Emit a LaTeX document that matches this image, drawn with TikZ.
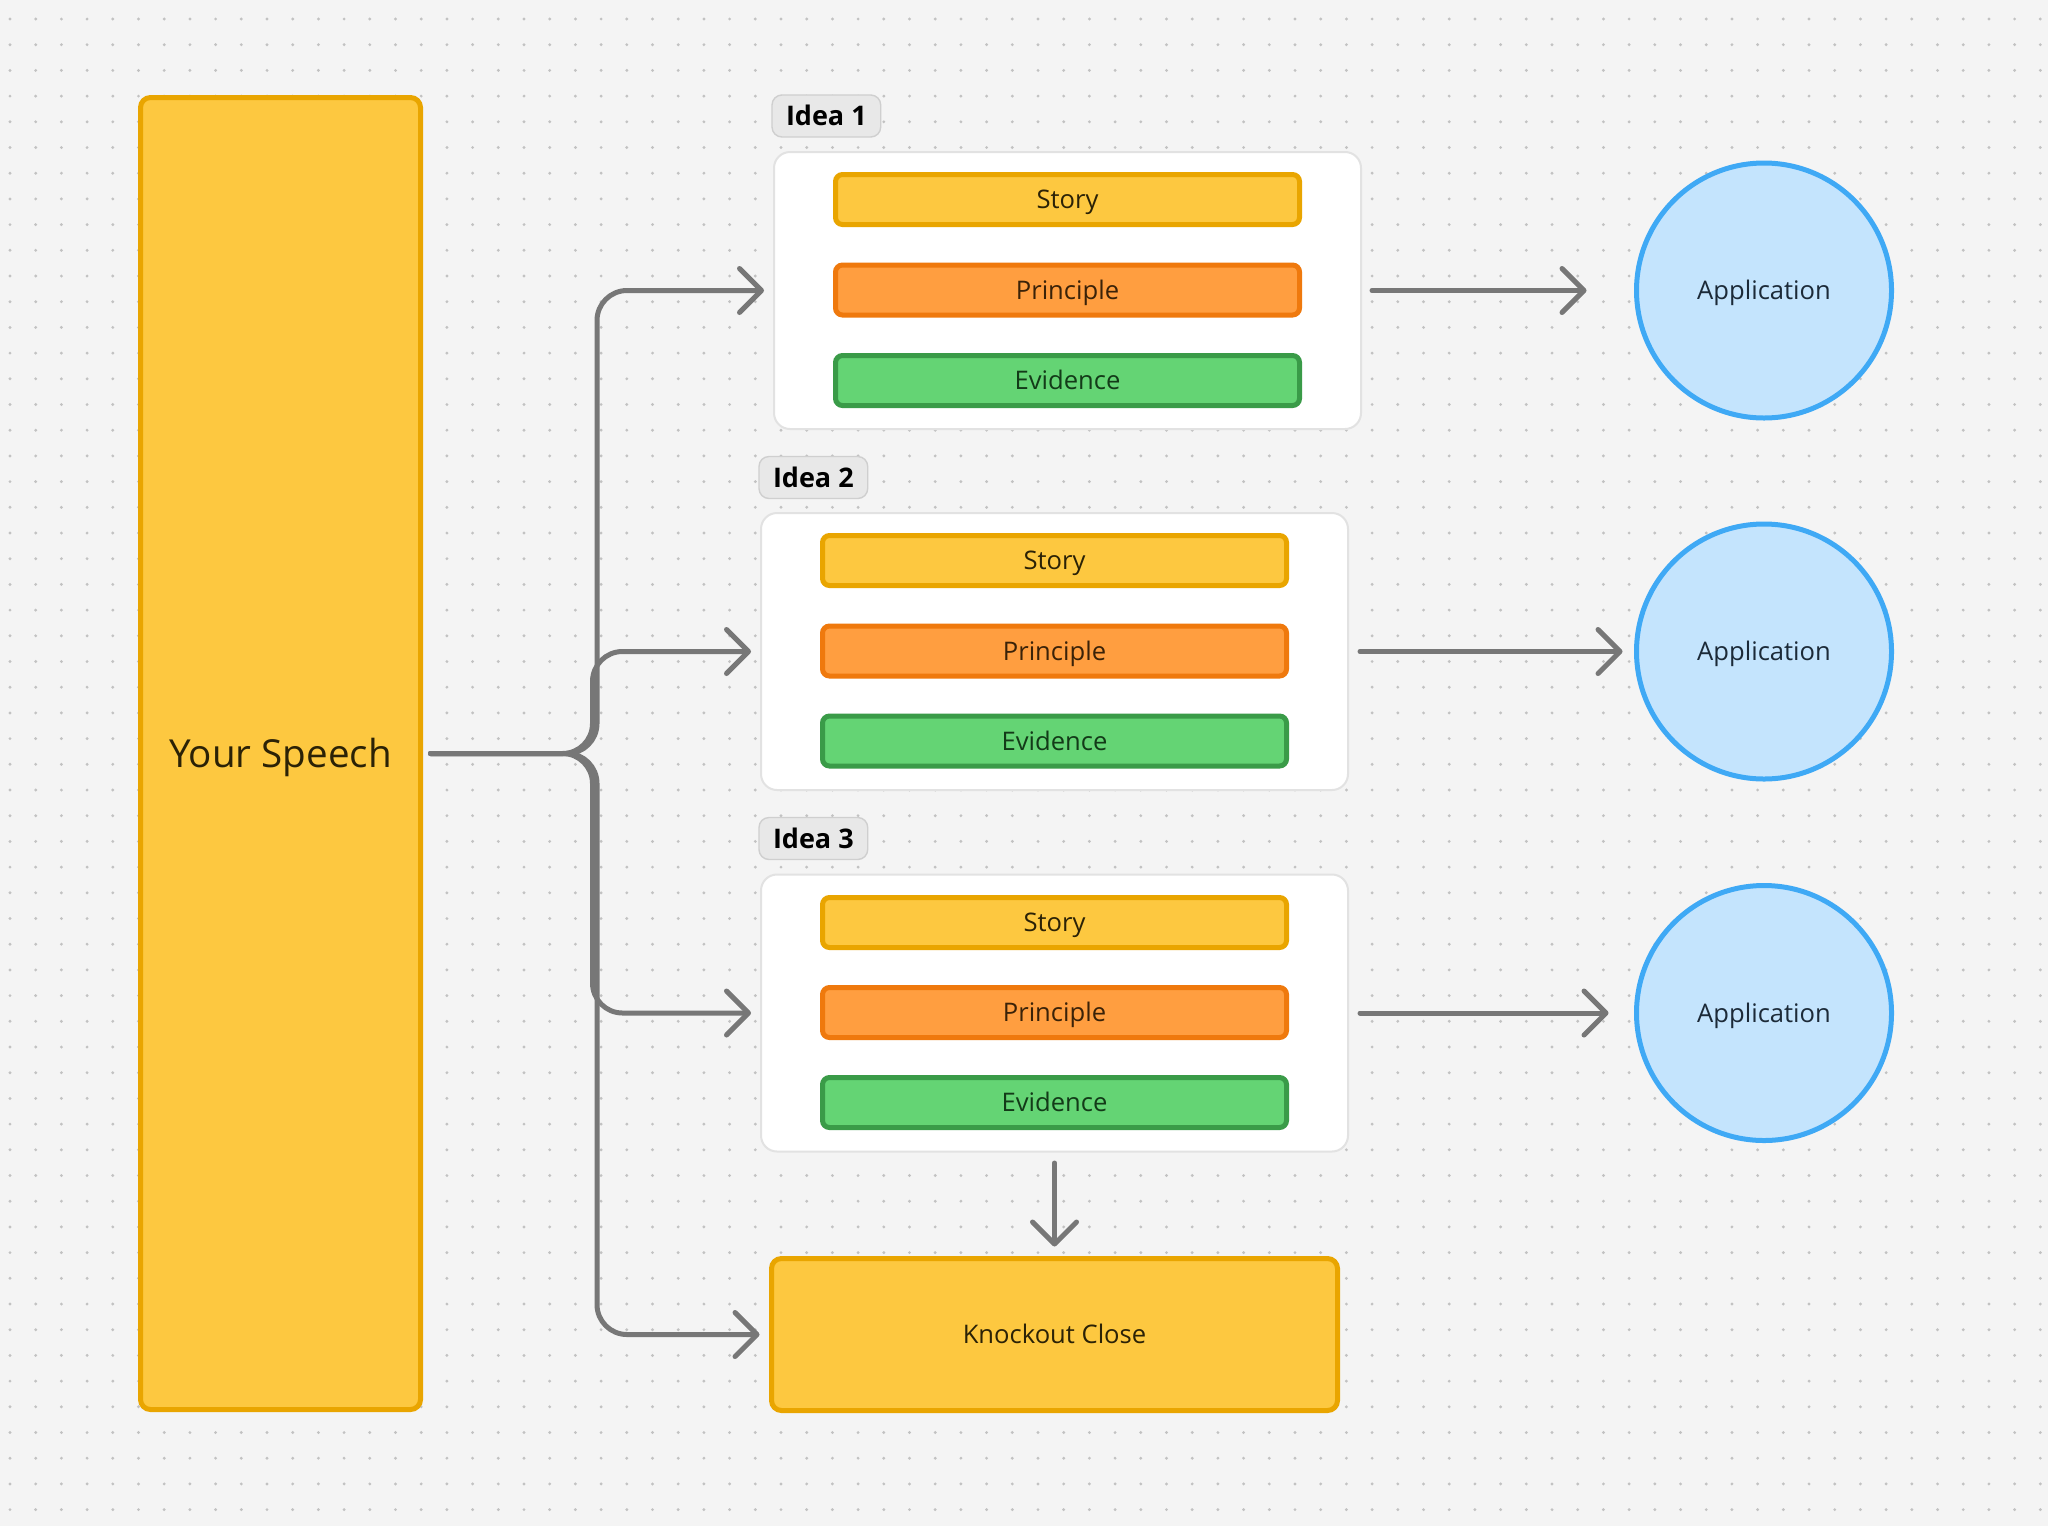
\documentclass[tikz,border=0pt]{standalone}
\usepackage{fontspec}
\setmainfont{Open Sans}
\usetikzlibrary{arrows.meta}
\definecolor{bgc}{HTML}{F4F4F4}
\definecolor{dotc}{HTML}{C2C2C2}
\definecolor{yfill}{HTML}{FDC840}
\definecolor{ydraw}{HTML}{E9A500}
\definecolor{ofill}{HTML}{FF9E40}
\definecolor{odraw}{HTML}{EF790D}
\definecolor{gfill}{HTML}{64D474}
\definecolor{gdraw}{HTML}{3A9B48}
\definecolor{bfill}{HTML}{C4E4FD}
\definecolor{bdraw}{HTML}{3FA9F5}
\definecolor{cdraw}{HTML}{E2E2E2}
\definecolor{lfill}{HTML}{E8E8E8}
\definecolor{ldraw}{HTML}{CFCFCF}
\definecolor{linec}{HTML}{777777}
\definecolor{ytext}{HTML}{2B2206}
\definecolor{otext}{HTML}{3A2208}
\definecolor{gtext}{HTML}{133A18}
\definecolor{btext}{HTML}{1C2A38}
\begin{document}
\begin{tikzpicture}[x=0.5pt,y=-0.5pt,
  wh/.style 2 args={minimum width=#1*0.5pt, minimum height=#2*0.5pt},
  base/.style={draw, inner sep=0pt, outer sep=0pt, text depth=0pt, text height=9.1pt},
  speechbox/.style={base, fill=yfill, draw=ydraw, line width=2.5pt, rounded corners=5pt,
     text=ytext, font=\fontsize{19.3}{23}\selectfont, text height=13.8pt},
  container/.style={base, fill=white, draw=cdraw, line width=1pt, rounded corners=8pt},
  ideatag/.style={base, fill=lfill, draw=ldraw, line width=0.7pt, rounded corners=5pt,
     inner xsep=7pt, minimum height=21pt, anchor=west, text=black, text height=9.6pt,
     font=\fontsize{13.5}{16}\selectfont\bfseries},
  bar/.style={base, line width=2.5pt, rounded corners=3.5pt, wh={464}{50},
     font=\fontsize{12.8}{15}\selectfont},
  storybar/.style={bar, fill=yfill, draw=ydraw, text=ytext},
  princbar/.style={bar, fill=ofill, draw=odraw, text=otext},
  evidbar/.style={bar, fill=gfill, draw=gdraw, text=gtext},
  appcircle/.style={base, circle, fill=bfill, draw=bdraw, line width=2.5pt,
     minimum size=127.5pt, text=btext, font=\fontsize{12.8}{15}\selectfont},
  closebox/.style={base, fill=yfill, draw=ydraw, line width=2.5pt, rounded corners=5pt,
     text=ytext, font=\fontsize{12.8}{15}\selectfont},
  conn/.style={draw=linec, line width=2.5pt, line cap=round, line join=round,
     -{Straight Barb[length=11pt, width=22pt, round]}}
]
\useasboundingbox (0,0) rectangle (2048,1526);
\fill[bgc] (0,0) rectangle (2048,1526);
\foreach \i in {0,...,79}{
  \foreach \j in {0,...,59}{
    \fill[dotc] ({10+25.7*\i},{19+25.7*\j}) circle (0.8pt);
  }
}

% main column
\node[speechbox, wh={280}{1312}] (speech) at (280.5,753.5) {Your Speech};

% Idea containers
\node[container, wh={587}{277}] (c1) at (1067.5,290.5) {};
\node[container, wh={587}{277}] (c2) at (1054.5,651.5) {};
\node[container, wh={587}{277}] (c3) at (1054.5,1013) {};

\node[ideatag] (l1) at (772,116) {Idea 1};
\node[ideatag] (l2) at (759,477.5) {Idea 2};
\node[ideatag] (l3) at (759,838.5) {Idea 3};

% bars
\node[storybar] (s1) at (1067.5,199.5) {Story};
\node[princbar] (p1) at (1067.5,290) {Principle};
\node[evidbar]  (e1) at (1067.5,380.5) {Evidence};

\node[storybar] (s2) at (1054.5,560.5) {Story};
\node[princbar] (p2) at (1054.5,651) {Principle};
\node[evidbar]  (e2) at (1054.5,741) {Evidence};

\node[storybar] (s3) at (1054.5,922.5) {Story};
\node[princbar] (p3) at (1054.5,1012.5) {Principle};
\node[evidbar]  (e3) at (1054.5,1102.5) {Evidence};

% applications
\node[appcircle] (a1) at (1764,290.5) {Application};
\node[appcircle] (a2) at (1764,651.5) {Application};
\node[appcircle] (a3) at (1764,1013) {Application};

% knockout close
\node[closebox, wh={566}{152}] (ko) at (1054.5,1334.5) {Knockout Close};

% trunk coordinates
\coordinate (tA) at (597,753.5);
\coordinate (tB) at (592.5,753.5);

% connectors from speech
\draw[conn, rounded corners=15pt, shorten <=5pt, shorten >=5pt] (speech.east) -- (tA) |- (c1.west);
\draw[conn, rounded corners=15pt, shorten <=5pt, shorten >=6pt] (speech.east) -- (tA) |- (ko.west);
\draw[conn, rounded corners=15pt, shorten <=5pt, shorten >=5pt] (speech.east) -- (tB) |- (c2.west);
\draw[conn, rounded corners=15pt, shorten <=5pt, shorten >=5pt] (speech.east) -- (tB) |- (c3.west);

% to applications
\draw[conn, shorten <=5.5pt, shorten >=25pt] (c1.east) -- (a1.west);
\draw[conn, shorten <=6pt, shorten >=7pt] (c2.east) -- (a2.west);
\draw[conn, shorten <=6pt, shorten >=14pt] (c3.east) -- (a3.west);

% to knockout close
\draw[conn, shorten <=5.75pt, shorten >=6pt] (c3.south) -- (ko.north);
\end{tikzpicture}
\end{document}
